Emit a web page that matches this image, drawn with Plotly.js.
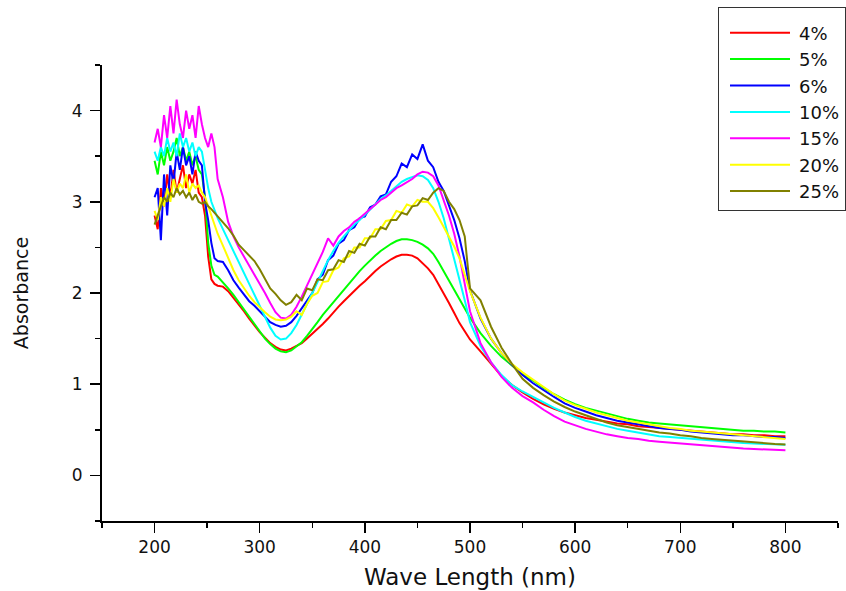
<!DOCTYPE html>
<html>
<head>
<meta charset="utf-8">
<script src="https://cdn.plot.ly/plotly-3.0.1.min.js"></script>
<style>html,body{margin:0;padding:0;background:#fff;}#chart{width:846px;height:591px;}</style>
</head>
<body>
<div id="chart"></div>
<script>
const wavelength = [
  200,203,206,209,212,215,218,221,224,227,230,233,236,239,242,245,248,251,254,257,260,
  265,270,275,280,285,290,295,300,305,310,315,320,325,330,335,340,345,350,355,360,365,370,375,380,385,390,395,400,405,410,415,420,425,430,435,440,445,450,455,460,465,470,475,480,485,490,495,500,
  510,520,530,540,550,560,570,580,590,600,610,620,630,640,650,660,670,680,690,700,710,720,730,740,750,760,770,780,790,800
];

const s4 = [
  2.85,2.70,3.15,2.95,3.30,3.05,3.35,3.10,3.25,3.40,3.15,3.30,3.20,3.35,3.10,3.05,2.85,2.40,2.15,2.10,2.08,
  2.07,2.02,1.95,1.88,1.80,1.72,1.64,1.57,1.51,1.45,1.41,1.38,1.37,1.39,1.42,1.45,1.50,1.55,1.60,1.66,1.72,1.79,1.85,1.91,1.97,2.03,2.08,2.13,2.19,2.24,2.29,2.33,2.37,2.40,2.42,2.42,2.41,2.38,2.33,2.27,2.20,2.10,1.99,1.89,1.78,1.67,1.58,1.49,
  1.36,1.22,1.09,0.99,0.91,0.84,0.78,0.73,0.69,0.66,0.63,0.61,0.59,0.57,0.56,0.54,0.53,0.52,0.51,0.50,0.49,0.48,0.47,0.46,0.45,0.45,0.44,0.44,0.43,0.43
];
const s5 = [
  3.45,3.30,3.55,3.40,3.60,3.45,3.55,3.70,3.50,3.60,3.45,3.55,3.40,3.50,3.35,3.30,3.05,2.55,2.30,2.20,2.18,
  2.12,2.05,1.98,1.90,1.82,1.73,1.65,1.57,1.50,1.44,1.39,1.36,1.35,1.37,1.41,1.46,1.53,1.60,1.68,1.76,1.83,1.90,1.97,2.04,2.11,2.18,2.24,2.30,2.36,2.41,2.46,2.50,2.54,2.57,2.59,2.59,2.58,2.56,2.53,2.49,2.43,2.34,2.24,2.14,2.03,1.93,1.83,1.73,
  1.56,1.42,1.30,1.20,1.11,1.04,0.96,0.89,0.83,0.78,0.74,0.71,0.68,0.65,0.62,0.60,0.58,0.57,0.56,0.55,0.54,0.53,0.52,0.51,0.50,0.49,0.49,0.48,0.48,0.47
];
const s6 = [
  3.05,3.15,2.58,3.30,2.85,3.40,3.20,3.55,3.35,3.60,3.40,3.50,3.30,3.55,3.45,3.40,3.00,2.80,2.55,2.38,2.35,
  2.34,2.25,2.14,2.06,1.98,1.91,1.86,1.80,1.74,1.68,1.65,1.63,1.64,1.68,1.75,1.83,1.92,2.00,2.15,2.20,2.36,2.41,2.54,2.58,2.69,2.72,2.82,2.84,2.94,2.97,3.06,3.08,3.22,3.28,3.42,3.38,3.52,3.47,3.63,3.45,3.38,3.22,3.12,2.95,2.80,2.60,2.35,2.03,
  1.72,1.50,1.34,1.21,1.10,1.01,0.93,0.86,0.79,0.74,0.70,0.66,0.63,0.60,0.58,0.56,0.54,0.52,0.51,0.50,0.48,0.47,0.46,0.45,0.44,0.44,0.43,0.42,0.42,0.41
];
const s10 = [
  3.55,3.45,3.60,3.50,3.70,3.55,3.65,3.50,3.75,3.60,3.70,3.55,3.65,3.50,3.60,3.55,3.35,3.15,3.00,2.90,2.82,
  2.70,2.58,2.46,2.34,2.22,2.10,1.98,1.86,1.74,1.62,1.53,1.49,1.50,1.56,1.65,1.76,1.88,2.00,2.12,2.24,2.36,2.46,2.55,2.62,2.69,2.75,2.80,2.86,2.92,2.98,3.03,3.07,3.12,3.17,3.22,3.25,3.27,3.29,3.28,3.24,3.15,3.00,2.82,2.60,2.38,2.15,1.92,1.68,
  1.42,1.24,1.10,0.99,0.92,0.86,0.80,0.74,0.69,0.64,0.60,0.57,0.54,0.51,0.49,0.47,0.45,0.43,0.42,0.41,0.40,0.39,0.38,0.37,0.36,0.355,0.35,0.345,0.34,0.335
];
const s15 = [
  3.65,3.80,3.60,3.95,3.70,4.05,3.75,4.12,3.85,3.70,4.00,3.80,3.95,3.70,4.05,3.85,3.70,3.60,3.75,3.60,3.25,
  3.05,2.78,2.62,2.50,2.40,2.30,2.21,2.11,2.00,1.89,1.79,1.73,1.72,1.76,1.85,1.96,2.08,2.20,2.32,2.45,2.60,2.52,2.62,2.68,2.72,2.78,2.82,2.87,2.92,2.97,3.02,3.05,3.10,3.15,3.18,3.22,3.25,3.30,3.33,3.32,3.28,3.18,3.02,2.85,2.65,2.40,2.10,1.80,
  1.45,1.24,1.08,0.96,0.87,0.80,0.72,0.65,0.59,0.55,0.51,0.48,0.45,0.43,0.41,0.40,0.38,0.37,0.36,0.35,0.34,0.33,0.32,0.31,0.30,0.295,0.29,0.285,0.28,0.275
];
const s20 = [
  2.90,2.80,3.05,2.95,3.15,3.00,3.25,3.10,3.20,3.15,3.30,3.10,3.20,3.15,3.18,3.10,3.05,2.95,2.85,2.75,2.65,
  2.52,2.38,2.25,2.14,2.05,1.97,1.90,1.84,1.79,1.74,1.71,1.70,1.71,1.74,1.80,1.76,1.88,1.97,2.00,2.12,2.13,2.25,2.28,2.38,2.40,2.50,2.50,2.60,2.60,2.70,2.70,2.79,2.80,2.90,2.88,2.97,2.95,3.02,3.00,3.00,2.93,2.83,2.72,2.62,2.51,2.38,2.20,2.02,
  1.73,1.50,1.34,1.22,1.13,1.05,0.97,0.89,0.82,0.77,0.73,0.69,0.66,0.63,0.60,0.58,0.56,0.54,0.52,0.51,0.49,0.48,0.47,0.46,0.45,0.44,0.43,0.42,0.41,0.40
];
const s25 = [
  2.75,2.85,2.95,3.05,3.00,3.10,3.05,3.15,3.08,3.12,3.05,3.10,3.02,3.08,3.00,2.98,3.00,2.95,2.92,2.88,2.85,
  2.78,2.71,2.63,2.53,2.47,2.41,2.35,2.26,2.15,2.05,1.99,1.92,1.87,1.90,1.98,1.92,2.05,2.03,2.15,2.14,2.25,2.26,2.36,2.34,2.46,2.44,2.54,2.52,2.62,2.62,2.72,2.70,2.80,2.80,2.88,2.86,2.95,2.96,3.04,3.02,3.10,3.15,3.12,3.00,2.92,2.80,2.62,2.05,
  1.92,1.63,1.40,1.22,1.06,0.96,0.88,0.81,0.75,0.70,0.66,0.62,0.58,0.55,0.53,0.51,0.49,0.47,0.46,0.44,0.43,0.41,0.40,0.39,0.38,0.37,0.36,0.35,0.345,0.34
];

const seriesNames = ['4%','5%','6%','10%','15%','20%','25%'];
const seriesValues = [s4, s5, s6, s10, s15, s20, s25];
const seriesColors = ['#ff0000','#00ff00','#0000ff','#00ffff','#ff00ff','#ffff00','#808000'];

const traces = seriesNames.map((name, i) => ({
  type: 'scatter',
  mode: 'lines',
  name: name,
  x: wavelength,
  y: seriesValues[i],
  line: {color: seriesColors[i], width: 2}
}));

const FONT = 'DejaVu Sans, Liberation Sans, Arial, sans-serif';

const layout = {
  width: 846,
  height: 591,
  paper_bgcolor: '#ffffff',
  plot_bgcolor: '#ffffff',
  margin: {l: 102, r: 8, t: 65, b: 70, autoexpand: false},
  font: {family: FONT, color: '#111111', size: 17},
  showlegend: true,
  legend: {
    xref: 'container', yref: 'container',
    x: 718/846, y: 1 - 7/591, xanchor: 'left', yanchor: 'top',
    bgcolor: '#ffffff', bordercolor: '#333333', borderwidth: 1,
    font: {family: FONT, size: 18, color: '#111111'},
    title: {text: ' ', font: {family: FONT, size: 5}},
    itemwidth: 70,
    tracegroupgap: 0
  },
  xaxis: {
    range: [150, 850],
    tick0: 0, dtick: 100,
    ticks: 'outside', ticklen: 10, tickwidth: 1.5, tickcolor: '#000',
    minor: {dtick: 50, ticks: 'outside', ticklen: 5, tickwidth: 1.5, tickcolor: '#000'},
    showline: true, linecolor: '#000', linewidth: 2,
    showgrid: false, zeroline: false,
    tickfont: {family: FONT, size: 17, color: '#111'},
    title: {text: 'Wave Length (nm)', font: {family: FONT, size: 23, color: '#111'}, standoff: 12}
  },
  yaxis: {
    range: [-0.5, 4.5],
    tick0: 0, dtick: 1,
    ticks: 'outside', ticklen: 10, tickwidth: 1.5, tickcolor: '#000',
    minor: {dtick: 0.5, ticks: 'outside', ticklen: 5, tickwidth: 1.5, tickcolor: '#000'},
    showline: true, linecolor: '#000', linewidth: 2,
    showgrid: false, zeroline: false,
    tickfont: {family: FONT, size: 17, color: '#111'},
    ticklabelstandoff: 4,
    title: {text: 'Absorbance', font: {family: FONT, size: 19, color: '#111'}, standoff: 38}
  }
};

Plotly.newPlot('chart', traces, layout, {displayModeBar: false, staticPlot: true}).then(function (gd) {
  // lengthen the legend line samples to match the reference legend style
  gd.querySelectorAll('.legend .legendlines path').forEach(function (p) {
    p.setAttribute('d', 'M11,0h60');
  });
});
</script>
</body>
</html>
